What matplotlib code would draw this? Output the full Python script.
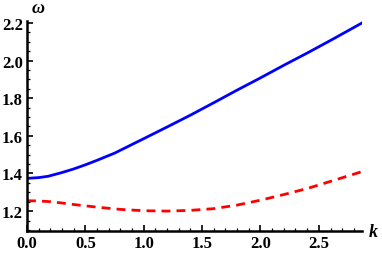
import numpy as np
import matplotlib.pyplot as plt
from matplotlib.ticker import MultipleLocator

k = [0.0, 0.1, 0.18, 0.3, 0.4, 0.5, 0.6, 0.75, 1.0, 1.2, 1.4, 1.6, 1.8, 2.0, 2.2, 2.4, 2.6, 2.87]
w_upper = [1.374, 1.378, 1.385, 1.405, 1.424, 1.446, 1.47, 1.508, 1.585, 1.647, 1.71, 1.776, 1.843, 1.908, 1.975, 2.04, 2.107, 2.20]
k_low = [0.0, 0.1, 0.2, 0.3, 0.4, 0.5, 0.6, 0.8, 1.0, 1.2, 1.4, 1.6, 1.8, 2.0, 2.2, 2.4, 2.6, 2.87]
w_lower = [1.255, 1.254, 1.25, 1.243, 1.235, 1.228, 1.221, 1.209, 1.202, 1.20, 1.204, 1.213, 1.232, 1.258, 1.288, 1.32, 1.358, 1.41]

plt.rcParams['font.family'] = ['Liberation Serif', 'DejaVu Serif']

fig = plt.figure(figsize=(3.82, 2.55), dpi=100)
ax = fig.add_axes([0.0707, 0.09, 0.877, 0.8235])

ax.plot(k, w_upper, color='#0000ff', lw=2)
ax.plot(k_low, w_lower, color='#ff0000', lw=2, dashes=(3.2, 2.2))

ax.set_xlim(0, 2.87)
ax.set_ylim(1.094, 2.21)
ax.spines['top'].set_visible(False)
ax.spines['right'].set_visible(False)
for s in ('left', 'bottom'):
    ax.spines[s].set_linewidth(1.8)

ax.xaxis.set_major_locator(MultipleLocator(0.5))
ax.xaxis.set_minor_locator(MultipleLocator(0.1))
ax.yaxis.set_major_locator(MultipleLocator(0.2))
ax.yaxis.set_minor_locator(MultipleLocator(0.05))
ax.tick_params(which='major', direction='in', length=4, width=1.2, labelsize=12, pad=3)
ax.tick_params(which='minor', direction='in', length=2, width=0.9)
for lab in ax.get_xticklabels() + ax.get_yticklabels():
    lab.set_fontweight('bold')

ax.text(0.0707 + 0.877 + 0.018, 0.09, 'k', transform=fig.transFigure, fontsize=13,
        style='italic', fontweight='bold', va='center', ha='left')
ax.text(0.082, 0.935, 'ω', transform=fig.transFigure, fontsize=13,
        style='italic', fontweight='bold', va='bottom', ha='left')

fig.savefig('out.png', dpi=100)
